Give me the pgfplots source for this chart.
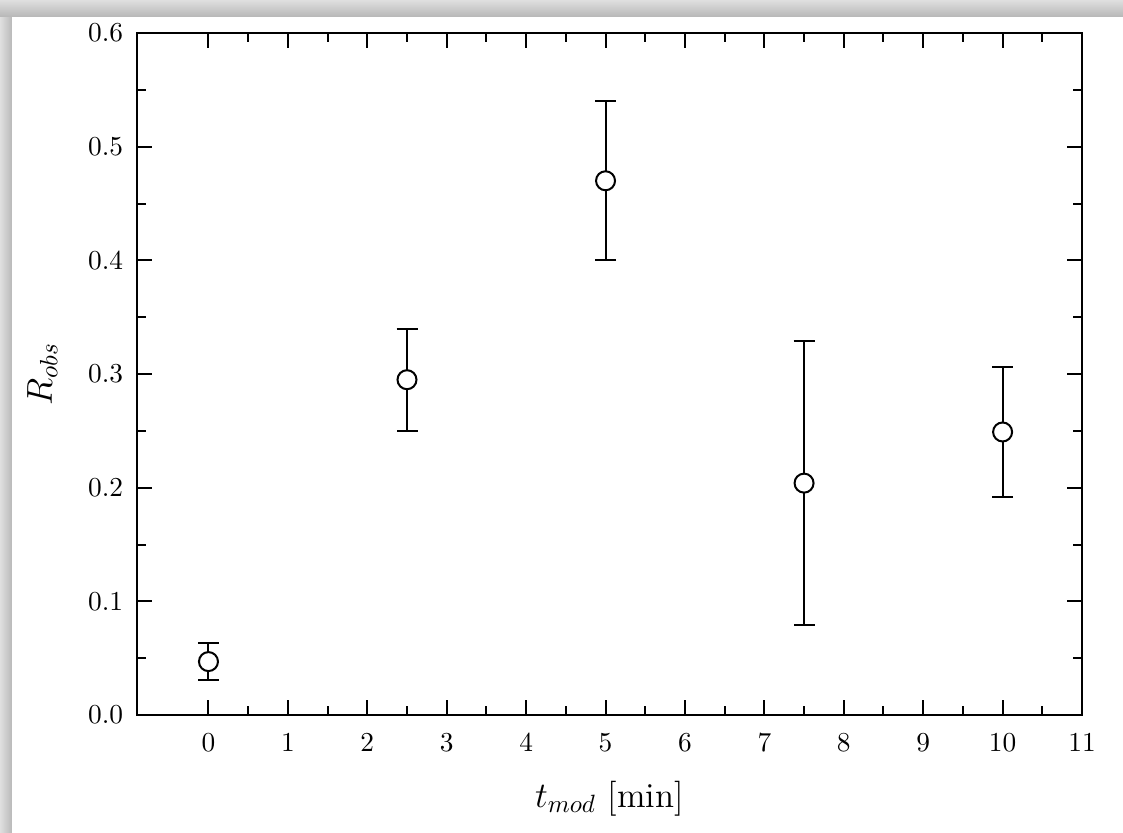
\documentclass[border=0pt]{standalone}
\usepackage{pgfplots}
\pgfplotsset{compat=1.18}
\usetikzlibrary{backgrounds,calc}

\begin{document}
\begin{tikzpicture}
\begin{axis}[
    name=main,
    scale only axis,
    width=378pt, height=272.8pt,
    xmin=-0.9, xmax=11,
    ymin=0, ymax=0.6,
    xtick={0,1,2,3,4,5,6,7,8,9,10,11},
    ytick={0,0.1,0.2,0.3,0.4,0.5,0.6},
    minor tick num=1,
    major tick length=6pt,
    minor tick length=3.6pt,
    tick align=inside,
    tick style={black, line width=0.8pt},
    axis line style={line width=0.8pt},
    yticklabel style={/pgf/number format/fixed, /pgf/number format/fixed zerofill,
        /pgf/number format/precision=1, xshift=-2pt},
    xticklabel style={yshift=-4pt},
    tick label style={font=\fontsize{10.8}{12}\selectfont},
    label style={font=\fontsize{14}{16}\selectfont},
    xlabel={$t_{mod}$ [min]},
    ylabel={$R_{obs}$},
    xlabel style={yshift=-5pt},
    ylabel style={yshift=5.5pt},
]
% measured points with symmetric errors
\addplot[
    only marks,
    mark=*,
    mark size=3.8pt,
    mark options={fill=white, draw=black, line width=0.8pt},
    error bars/.cd,
        y dir=both, y explicit,
        error bar style={black, line width=0.8pt},
        error mark options={rotate=90, mark size=4.2pt, line width=0.8pt, black},
] table[y error=err] {
x    y      err
0    0.047  0.016
2.5  0.295  0.045
5    0.470  0.070
7.5  0.204  0.125
10   0.249  0.057
};
\end{axis}

% page with the grey shadow at the top and left
\coordinate (pSW) at ($(main.south west)+(-54.8pt,-46.8pt)$);
\coordinate (pNE) at ($(main.north east)+(16.4pt,13.2pt)$);
\begin{scope}[on background layer]
    \fill[white] (pSW) rectangle (pNE);
    \shade[left color=gray!25, right color=gray!55] (pSW) rectangle ($(pSW|-pNE)+(4.8pt,0)$);
    \shade[top color=gray!25, bottom color=gray!55] ($(pSW|-pNE)+(0,-6.4pt)$) rectangle (pNE);
\end{scope}
\pgfresetboundingbox
\path[use as bounding box] (pSW) rectangle (pNE);
\end{tikzpicture}
\end{document}
